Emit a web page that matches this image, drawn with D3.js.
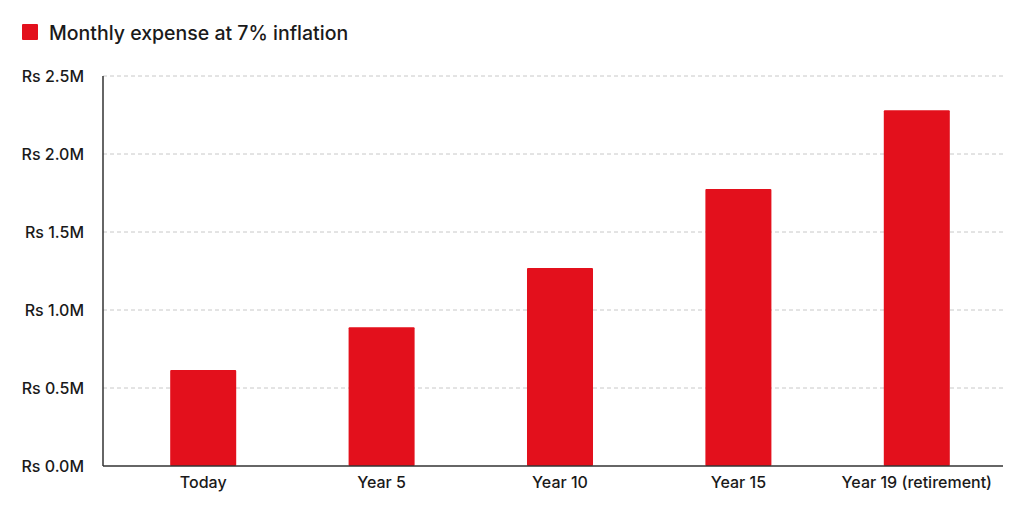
<!DOCTYPE html>
<html>
<head>
<meta charset="utf-8">
<script src="https://cdn.jsdelivr.net/npm/d3@7"></script>
<style>
  html, body { margin: 0; padding: 0; background: #fff; }
  svg { display: block; font-family: Inter, "Noto Sans", sans-serif; }
</style>
</head>
<body>
<div id="chart"></div>
<script>
const categories = ['Today', 'Year 5', 'Year 10', 'Year 15', 'Year 19 (retirement)'];
const expenseValues = [0.615, 0.89, 1.27, 1.775, 2.28]; // Rs millions
const yTicks = [0, 0.5, 1.0, 1.5, 2.0, 2.5];
const seriesName = 'Monthly expense at 7% inflation';

const width = 1024, height = 512;
const margin = { top: 76, right: 21, bottom: 46, left: 103 };
const barColor = '#e3101c';
const textColor = '#1a1a1a';

const svg = d3.select('#chart').append('svg')
  .attr('width', width).attr('height', height);

const y = d3.scaleLinear().domain([0, 2.5]).range([height - margin.bottom, margin.top]);
const x = d3.scaleBand().domain(categories)
  .range([margin.left + 11, width - margin.right + 3])
  .paddingInner(0.63).paddingOuter(0.315);

// gridlines
svg.append('g').selectAll('line').data(yTicks.filter(d => d > 0)).join('line')
  .attr('x1', margin.left).attr('x2', width - margin.right)
  .attr('y1', d => y(d)).attr('y2', d => y(d))
  .attr('stroke', '#c8c8c8').attr('stroke-width', 1)
  .attr('stroke-dasharray', '4,3');

// y labels
const yAxis = svg.append('g').attr('transform', `translate(${margin.left},0)`)
  .call(d3.axisLeft(y).tickValues(yTicks).tickSize(0).tickPadding(19)
    .tickFormat(d => `Rs ${d3.format('.1f')(d)}M`));
yAxis.select('.domain').remove();
yAxis.selectAll('text').attr('fill', textColor).attr('font-size', 16)
  .attr('font-weight', 500).attr('font-family', 'Inter, "Noto Sans", sans-serif');

// bars
svg.append('g').selectAll('rect').data(expenseValues).join('rect')
  .attr('x', (d, i) => x(categories[i]))
  .attr('width', x.bandwidth())
  .attr('y', d => y(d))
  .attr('height', d => y(0) - y(d))
  .attr('fill', barColor).attr('rx', 1);

// x axis
const xAxis = svg.append('g').attr('transform', `translate(0,${y(0)})`)
  .call(d3.axisBottom(x).tickSize(0).tickPadding(11));
xAxis.select('.domain').remove();
xAxis.selectAll('text').attr('fill', textColor).attr('font-size', 16)
  .attr('font-weight', 500).attr('font-family', 'Inter, "Noto Sans", sans-serif');

// axis lines
svg.append('line')
  .attr('x1', margin.left).attr('x2', width - margin.right)
  .attr('y1', y(0)).attr('y2', y(0))
  .attr('stroke', '#333').attr('stroke-width', 1.5);
svg.append('line')
  .attr('x1', margin.left).attr('x2', margin.left)
  .attr('y1', y(2.5)).attr('y2', y(0))
  .attr('stroke', '#333').attr('stroke-width', 1.5);

// legend
const legend = svg.append('g').attr('transform', 'translate(22,24)');
legend.append('rect').attr('width', 16).attr('height', 16).attr('rx', 1).attr('fill', barColor);
legend.append('text').attr('x', 27).attr('y', 15.5)
  .attr('fill', textColor).attr('font-size', 19.5).attr('font-weight', 500)
  .text(seriesName);
</script>
</body>
</html>
